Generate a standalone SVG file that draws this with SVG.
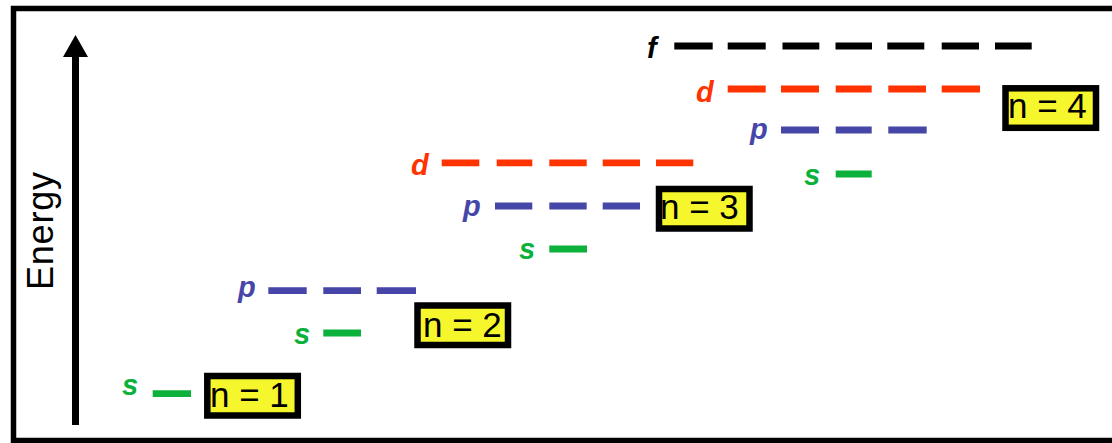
<svg xmlns="http://www.w3.org/2000/svg" width="1112" height="443" viewBox="0 0 1112 443">
<style>
.orb{font-family:"Liberation Sans",Arial,sans-serif;font-weight:bold;font-style:italic;font-size:29px}
.lv{fill:none;stroke-width:6.8;stroke-linecap:butt}
.s{stroke:#0cb13b}.p{stroke:#4646a8}.d{stroke:#ff3300}.f{stroke:#000}
.ts{fill:#0cb13b}.tp{fill:#4646a8}.td{fill:#ff3300}.tf{fill:#000}
.box{fill:#f6f62c;stroke:#000;stroke-width:6.5}
.bt{font-family:"Liberation Sans",Arial,sans-serif;font-size:35px;fill:#000}
</style>
<defs>
<marker id="ah" viewBox="0 0 24 22" refX="12" refY="0" markerWidth="24" markerHeight="22" markerUnits="userSpaceOnUse" orient="auto-start-reverse">
<path d="M0 0 L12 0 L24 0 L12 22 Z" fill="#000"/>
</marker>
</defs>
<rect x="0" y="0" width="1112" height="443" fill="#fff"/>
<rect x="13.5" y="8.5" width="1110" height="432" fill="none" stroke="#000" stroke-width="5.5"/>
<g id="connectors">
<line x1="75.5" y1="425" x2="75.5" y2="55" stroke="#000" stroke-width="7"/>
<path d="M75.5 35 L63 57 L88 57 Z" fill="#000"/>
</g>
<g id="axis-label">
<text transform="translate(53,231) rotate(-90)" text-anchor="middle" font-family="Liberation Sans, Arial, sans-serif" font-size="36" textLength="118" fill="#000">Energy</text>
</g>
<g id="shell-n1">
<text class="orb ts" x="122" y="395">s</text>
<path class="lv s" d="M152.7 393.7H191"/>
<rect class="box" x="207.3" y="376" width="90.5" height="39.5"/>
<text class="bt" x="210" y="406.7">n = 1</text>
</g>
<g id="shell-n2">
<text class="orb tp" x="238" y="297">p</text>
<path class="lv p" d="M268.3 290.7H306.7M323.3 290.7H361M376.7 290.7H416"/>
<text class="orb ts" x="294" y="344">s</text>
<path class="lv s" d="M323.3 333H361"/>
<rect class="box" x="417.5" y="305.5" width="90.5" height="39.5"/>
<text class="bt" x="423" y="336.7">n = 2</text>
</g>
<g id="shell-n3">
<text class="orb td" x="411" y="175">d</text>
<path class="lv d" d="M441.7 162.8H479.3M496.7 162.8H532.3M549.3 162.8H586.7M602.7 162.8H640M656 162.8H693.3"/>
<text class="orb tp" x="463" y="215.5">p</text>
<path class="lv p" d="M495 206H532.3M549.3 206H586.7M602.7 206H640"/>
<text class="orb ts" x="519" y="259">s</text>
<path class="lv s" d="M549.3 249H587"/>
<rect class="box" x="659" y="189" width="90.5" height="39.5"/>
<text class="bt" x="660" y="218.5">n = 3</text>
</g>
<g id="shell-n4">
<text class="orb tf" x="647" y="58">f</text>
<path class="lv f" d="M674.3 46H712.7M727.7 46H765.7M782.5 46H819.3M835.5 46H872M887.3 46H924.3M941.7 46H979M995 46H1031.7"/>
<text class="orb td" x="696" y="101.5">d</text>
<path class="lv d" d="M727.7 89H765.7M781 89H819M835.7 89H871.7M888.3 89H926M941.7 89H980"/>
<text class="orb tp" x="750" y="138.5">p</text>
<path class="lv p" d="M781 130H819M835.7 130H871.7M888.3 130H926.7"/>
<text class="orb ts" x="804" y="185">s</text>
<path class="lv s" d="M835.7 174H871.7"/>
<rect class="box" x="1005.5" y="88.3" width="90.5" height="39.5"/>
<text class="bt" x="1008" y="118">n = 4</text>
</g>
</svg>
